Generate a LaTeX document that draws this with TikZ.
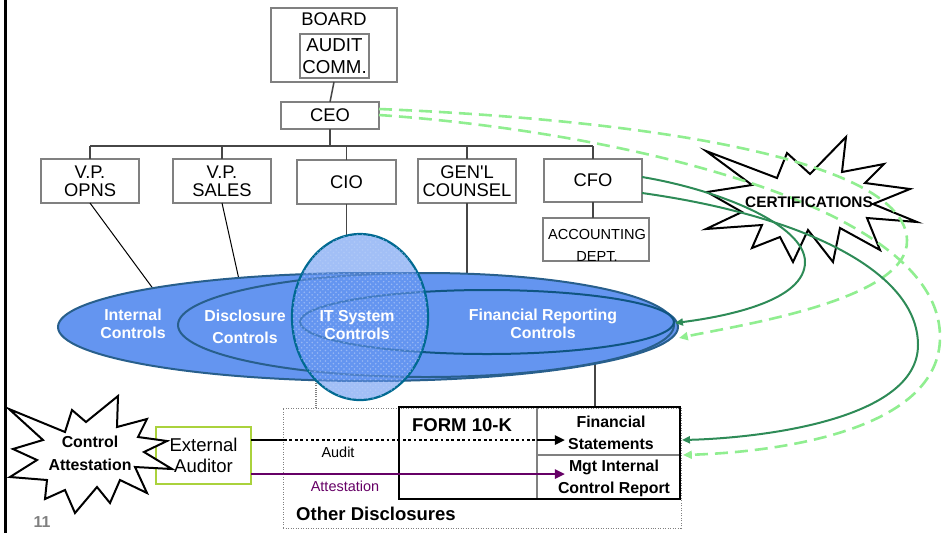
\documentclass[tikz,border=0pt]{standalone}
\usepackage{fontspec}
\setmainfont{Liberation Sans}
\usetikzlibrary{arrows.meta,patterns,shapes.geometric}
\newdimen\pxl
\pxl=0.5669pt
\newcommand\fsz[2]{\fontsize{#1}{#2}\selectfont}

\definecolor{boxgray}{RGB}{128,128,128}
\definecolor{linegray}{RGB}{70,70,70}
\definecolor{ctrlblue}{RGB}{100,149,240}
\definecolor{ctrledge}{RGB}{40,95,140}
\definecolor{fredge}{RGB}{15,85,130}
\definecolor{cioedge}{RGB}{0,105,145}
\definecolor{certgreen}{RGB}{46,139,87}
\definecolor{certlight}{RGB}{144,238,144}
\definecolor{attpurple}{RGB}{102,0,102}
\definecolor{audgreen}{RGB}{170,210,60}
\definecolor{pagegray}{RGB}{128,128,128}

\begin{document}
\begin{tikzpicture}[x=0.5669pt, y=-0.5669pt,
  orgbox/.style={draw=boxgray, line width=1.4\pxl, fill=white, inner sep=0pt, outer sep=0pt,
    align=center, font=\fsz{10.4}{10}},
  orgline/.style={draw=linegray, line width=1.5\pxl},
  thinline/.style={draw=black, line width=1\pxl},
  ctrl/.style={ellipse, draw=ctrledge, line width=2\pxl, fill=ctrlblue, inner sep=0pt, outer sep=0pt},
  ctrltext/.style={text=white, font=\bfseries\fsz{9}{10.2}, align=center},
  burst/.style={draw=black, line width=2\pxl, fill=white, line join=miter, miter limit=25},
  certsolid/.style={draw=certgreen, line width=2\pxl, -{Triangle[length=4.5pt,width=4pt]}},
  certdash/.style={draw=certlight, line width=2.6\pxl, dash pattern=on 13\pxl off 7\pxl,
    -{Triangle[length=5pt,width=4.5pt]}},
  flowarrow/.style={line width=2.8\pxl, -{Triangle[length=5.7pt,width=5.1pt]}},
]
\useasboundingbox (0,0) rectangle (952,533);

% page rule at the left edge
\coordinate (ruleT) at (5,0);
\coordinate (ruleB) at (5,533);
\draw[line width=3\pxl] (ruleT) -- (ruleB);

% ---------- organisation chart ----------
\node[orgbox, minimum width=126\pxl, minimum height=74\pxl] (board) at (334,45) {};
\node[font=\fsz{10.4}{12}] (boardl) at (334,19) {BOARD};
\node[orgbox, minimum width=69\pxl, minimum height=44\pxl, font=\fsz{10.6}{12.3}] (audit) at (334.5,56) {AUDIT\\COMM.};
\node[orgbox, minimum width=98\pxl, minimum height=27\pxl] (ceo) at (330,115.5) {CEO};

\node[orgbox, minimum width=98\pxl, minimum height=44\pxl] (opns) at (90,181) {V.P.\\OPNS};
\node[orgbox, minimum width=98\pxl, minimum height=44\pxl] (sales) at (222,181) {V.P.\\SALES};
\node[orgbox, minimum width=99\pxl, minimum height=44\pxl] (cio) at (346.5,182) {CIO};
\node[orgbox, minimum width=98\pxl, minimum height=44\pxl] (gen) at (467,181) {GEN\textquotesingle L\\COUNSEL};
\node[orgbox, minimum width=98\pxl, minimum height=43\pxl] (cfo) at (593,180.5) {CFO};
\node[orgbox, minimum width=106\pxl, minimum height=43\pxl] (acct) at (596,239.5) {};
\node[align=center, font=\fsz{8.25}{12.5}] (acctl) at (597,245) {ACCOUNTING\\DEPT.};

% ---------- form 10-K area ----------
\node[draw=gray, dash pattern=on 1\pxl off 1.5\pxl, line width=1\pxl, inner sep=0pt,
  minimum width=398\pxl, minimum height=120\pxl] (other) at (482,468) {};
\node[anchor=west, font=\bfseries\fsz{10.5}{12}] (otherl) at (290,514) {Other Disclosures};
\node[draw=gray, line width=1.2\pxl, inner sep=0pt, minimum width=143\pxl, minimum height=48\pxl] (fs) at (608.5,431) {};
\node[draw=gray, line width=1.2\pxl, inner sep=0pt, minimum width=143\pxl, minimum height=44\pxl] (mic) at (608.5,477) {};
\node[draw=black, line width=2.6\pxl, inner sep=0pt, minimum width=281\pxl, minimum height=92\pxl] (form) at (539.5,453) {};
\node[font=\bfseries\fsz{10.5}{12}] (forml) at (462,425) {FORM 10-K};
\node[align=center, font=\bfseries\fsz{9}{12.5}] (fsl) at (611,433) {Financial\\Statements};
\node[align=center, font=\bfseries\fsz{9}{12.5}] (micl) at (614,478) {Mgt Internal\\Control Report};

% ---------- reporting lines ----------
\coordinate (bus) at (330,146);
\draw[orgline] (board.south) -- (ceo.north);
\draw[orgline] (ceo.south) -- (bus);
\draw[orgline] (opns.north |- bus) -- (cfo.north |- bus);
\foreach \b in {opns,sales,cio,gen,cfo}
  \draw[orgline] (\b.north) -- (\b.north |- bus);
\draw[orgline] (cfo.south) -- (cfo.south |- acct.north);

\coordinate (opnsEnd) at (157,294);
\coordinate (salesEnd) at (240,284);
\coordinate (cioEnd) at (346.5,235);
\coordinate (genEnd) at (467,288);
\coordinate (frTail) at (595,358);
\coordinate (cioFoot) at (316,381);
\draw[thinline] (opns.south) -- (opnsEnd);
\draw[thinline] (sales.south) -- (salesEnd);
\draw[orgline] (cio.south) -- (cioEnd);
\draw[orgline] (gen.south) -- (genEnd);
\draw[orgline] (frTail) -- (frTail |- form.north);
\draw[draw=gray, dash pattern=on 1\pxl off 1.2\pxl, line width=1.2\pxl] (cioFoot) -- (cioFoot |- other.north);

% ---------- control ellipses ----------
\node[ctrl, minimum width=620\pxl, minimum height=108\pxl] (ic) at (368,327) {};
\node[ctrl, minimum width=496\pxl, minimum height=104\pxl] (dc) at (426,325) {};
\node[ctrl, draw=fredge, minimum width=374\pxl, minimum height=64\pxl] (fr) at (487,322) {};
\node[ellipse, inner sep=0pt, minimum width=136\pxl, minimum height=166\pxl,
  fill=ctrlblue, fill opacity=0.6, draw=cioedge, line width=2.2\pxl,
  postaction={pattern=crosshatch dots, pattern color=ctrlblue!45!white}] (itc) at (360,317) {};

\node[ctrltext] (icl) at (133,324) {Internal\\Controls};
\node[ctrltext, font=\bfseries\fsz{9}{12.5}] (dcl) at (245,327) {Disclosure\\Controls};
\node[ctrltext] (itl) at (357,325) {IT System\\Controls};
\node[ctrltext] (frl) at (543,324) {Financial Reporting\\Controls};

% ---------- external auditor ----------
\node[draw=audgreen, line width=1.4\pxl, inner sep=0pt, minimum width=95\pxl, minimum height=57\pxl,
  align=center, font=\fsz{10.5}{12}] (aud) at (203.5,455.5) {External\\Auditor};

\coordinate (auditA) at (251,440);
\coordinate (auditB) at (284,440);
\coordinate (auditC) at (537,440);
\coordinate (auditD) at (565,440);
\coordinate (attA) at (251,474);
\coordinate (attB) at (565,474);
\draw[line width=2.8\pxl] (auditA) -- (auditB);
\draw[line width=2.8\pxl, dash pattern=on 2.8\pxl off 2.6\pxl] (auditB) -- (auditC);
\draw[flowarrow] (auditC) -- (auditD);
\draw[flowarrow, draw=attpurple, fill=attpurple] (attA) -- (attB);
\node[font=\fsz{8.2}{10}] (auditl) at (338,452) {Audit};
\node[font=\fsz{8.2}{10}, text=attpurple] (attl) at (345,486) {Attestation};

% control attestation burst
\draw[burst] (9,409) -- (65,432) -- (72,410) -- (86,422) -- (118,396) -- (117,427)
  -- (147,419) -- (138,437) -- (167,441) -- (144,452) -- (172,469) -- (135,467)
  -- (147,493) -- (120,480) -- (110,503) -- (97,487) -- (75,513) -- (65,490)
  -- (45,499) -- (47,480) -- (10,477) -- (37,460) -- (13,449) -- (43,440) -- cycle;
\node[align=center, font=\bfseries\fsz{9}{13}] (cal) at (90,453.5) {Control\\Attestation};

% ---------- certifications ----------
\draw[burst] (706,151) -- (777,178) -- (787,153) -- (810,174) -- (846,137) -- (842,172)
  -- (884,164) -- (865,183) -- (910,189) -- (873,204) -- (917,222) -- (867,218)
  -- (880,250) -- (840,228) -- (833,262) -- (808,230) -- (793,262) -- (780,237)
  -- (752,248) -- (762,225) -- (706,229) -- (742,212) -- (707,192) -- (752,185) -- cycle;

\coordinate (ceoR1) at (379,109);
\coordinate (ceoR2) at (379,115);
\coordinate (cfoR1) at (642,177);
\coordinate (cfoR2) at (642,193);
\coordinate (frTip1) at (675,323);
\coordinate (frTip2) at (679,338);
\coordinate (fsIn1) at (682,440);
\coordinate (fsIn2) at (683,455);

\draw[certdash] (ceoR1) .. controls (650,120) and (905,160) .. (907,240)
  .. controls (909,300) and (740,325) .. (frTip2);
\draw[certdash] (ceoR2) .. controls (600,130) and (940,200) .. (940,337)
  .. controls (940,430) and (780,452) .. (fsIn2);
\draw[certsolid] (cfoR1) .. controls (720,190) and (805,225) .. (805,262)
  .. controls (805,300) and (730,316) .. (frTip1);
\draw[certsolid] (cfoR2) .. controls (800,215) and (918,270) .. (918,345)
  .. controls (918,420) and (760,438) .. (fsIn1);

\node[font=\bfseries\fsz{8.7}{10}] (cert) at (809,202) {CERTIFICATIONS};

% page number
\node[font=\bfseries\fsz{9}{10}, text=pagegray] (pageno) at (42,522) {11};
\end{tikzpicture}
\end{document}
